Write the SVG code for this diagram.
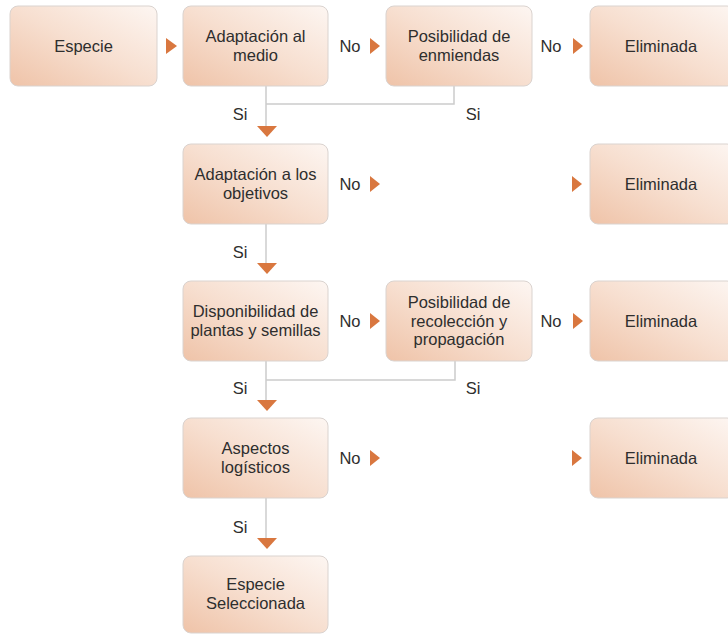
<svg xmlns="http://www.w3.org/2000/svg" width="728" height="635" viewBox="0 0 728 635">
<defs>
<linearGradient id="g" x1="0" y1="1" x2="1" y2="0">
<stop offset="0" stop-color="#efc3a8"/>
<stop offset="0.5" stop-color="#f7dfd0"/>
<stop offset="1" stop-color="#fdf6f2"/>
</linearGradient>
<style>
.box{fill:url(#g);stroke:#dad3cf;stroke-width:1}
.t{font-family:"Liberation Sans",Arial,sans-serif;font-size:16.5px;fill:#2e2e2e;text-anchor:middle}
.line{fill:none;stroke:#cccccc;stroke-width:1.5}
.tri{fill:#d9773f}
</style>
</defs>
<rect width="728" height="635" fill="#ffffff"/>

<g id="connectors">
<path class="line" d="M266,86 V126 M266,104 H454 V86"/>
<path class="line" d="M266,224 V263"/>
<path class="line" d="M266,361 V400 M266,380 H455 V361"/>
<path class="line" d="M266,498 V538"/>
<polygon class="tri" points="166,38 177,46 166,54"/>
<polygon class="tri" points="370,38 380,46 370,54"/>
<polygon class="tri" points="573,38 583,46 573,54"/>
<polygon class="tri" points="257,126 277,126 267,137"/>
<polygon class="tri" points="370,176 380,184 370,192"/>
<polygon class="tri" points="572,176 582,184 572,192"/>
<polygon class="tri" points="257,263 277,263 267,274"/>
<polygon class="tri" points="370,313 380,321 370,329"/>
<polygon class="tri" points="573,313 583,321 573,329"/>
<polygon class="tri" points="257,400 277,400 267,411"/>
<polygon class="tri" points="370,450 380,458 370,466"/>
<polygon class="tri" points="572,450 582,458 572,466"/>
<polygon class="tri" points="257,538 277,538 267,549"/>
<text class="t" x="350" y="52">No</text>
<text class="t" x="551" y="52">No</text>
<text class="t" x="240" y="120">Si</text>
<text class="t" x="473" y="120">Si</text>
<text class="t" x="350" y="190">No</text>
<text class="t" x="240" y="258">Si</text>
<text class="t" x="350" y="327">No</text>
<text class="t" x="551" y="327">No</text>
<text class="t" x="240" y="394">Si</text>
<text class="t" x="473" y="394">Si</text>
<text class="t" x="350" y="464">No</text>
<text class="t" x="240" y="533">Si</text>
</g>

<g id="especie">
<rect class="box" x="10" y="6" width="147" height="80" rx="8"/>
<text class="t" x="83.5" y="52">Especie</text>
</g>
<g id="adaptacion-medio">
<rect class="box" x="183" y="6" width="145" height="80" rx="8"/>
<text class="t" x="255.5" y="42">Adaptación al</text>
<text class="t" x="255.5" y="61">medio</text>
</g>
<g id="posibilidad-enmiendas">
<rect class="box" x="386" y="6" width="146" height="80" rx="8"/>
<text class="t" x="459" y="42">Posibilidad de</text>
<text class="t" x="459" y="61">enmiendas</text>
</g>
<g id="eliminada-1">
<rect class="box" x="590" y="6" width="145" height="80" rx="8"/>
<text class="t" x="661" y="52">Eliminada</text>
</g>

<g id="adaptacion-objetivos">
<rect class="box" x="183" y="144" width="145" height="80" rx="8"/>
<text class="t" x="255.5" y="180">Adaptación a los</text>
<text class="t" x="255.5" y="199">objetivos</text>
</g>
<g id="eliminada-2">
<rect class="box" x="590" y="144" width="145" height="80" rx="8"/>
<text class="t" x="661" y="190">Eliminada</text>
</g>

<g id="disponibilidad">
<rect class="box" x="183" y="281" width="145" height="80" rx="8"/>
<text class="t" x="255.5" y="317">Disponibilidad de</text>
<text class="t" x="255.5" y="336">plantas y semillas</text>
</g>
<g id="posibilidad-recoleccion">
<rect class="box" x="386" y="281" width="146" height="80" rx="8"/>
<text class="t" x="459" y="308">Posibilidad de</text>
<text class="t" x="459" y="327">recolección y</text>
<text class="t" x="459" y="345">propagación</text>
</g>
<g id="eliminada-3">
<rect class="box" x="590" y="281" width="145" height="80" rx="8"/>
<text class="t" x="661" y="327">Eliminada</text>
</g>

<g id="aspectos">
<rect class="box" x="183" y="418" width="145" height="80" rx="8"/>
<text class="t" x="255.5" y="454">Aspectos</text>
<text class="t" x="255.5" y="473">logísticos</text>
</g>
<g id="eliminada-4">
<rect class="box" x="590" y="418" width="145" height="80" rx="8"/>
<text class="t" x="661" y="464">Eliminada</text>
</g>

<g id="seleccionada">
<rect class="box" x="183" y="556" width="145" height="77" rx="8"/>
<text class="t" x="255.5" y="590">Especie</text>
<text class="t" x="255.5" y="609">Seleccionada</text>
</g>
</svg>
